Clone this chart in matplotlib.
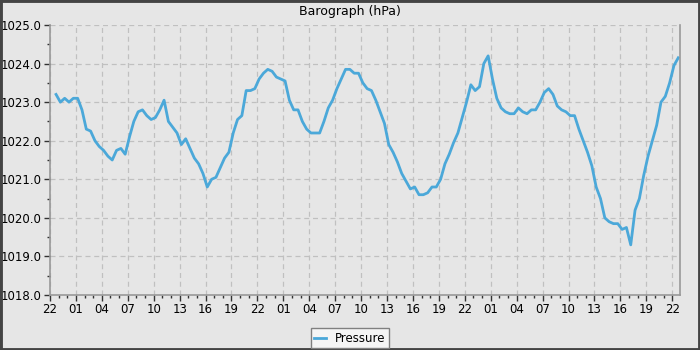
import numpy as np
import matplotlib
matplotlib.use("Agg")
import matplotlib.pyplot as plt
from matplotlib.ticker import MultipleLocator, FuncFormatter
from matplotlib.patches import Rectangle

# hours since 22:00 of the first day, one reading every half hour
start_hour = 22
t0 = 0.7
step = 0.5
pressure = [
    1023.2, 1023.0, 1023.1, 1023.0, 1023.1, 1023.1, 1022.8, 1022.3, 1022.25, 1022.0,
    1021.85, 1021.75, 1021.6, 1021.5, 1021.75, 1021.8, 1021.65, 1022.1, 1022.5, 1022.75,
    1022.8, 1022.65, 1022.55, 1022.6, 1022.8, 1023.05, 1022.5, 1022.35, 1022.2, 1021.9,
    1022.05, 1021.8, 1021.55, 1021.4, 1021.15, 1020.8, 1021.0, 1021.05, 1021.3, 1021.55,
    1021.7, 1022.2, 1022.55, 1022.65, 1023.3, 1023.3, 1023.35, 1023.6, 1023.75, 1023.85,
    1023.8, 1023.65, 1023.6, 1023.55, 1023.05, 1022.8, 1022.8, 1022.5, 1022.3, 1022.2,
    1022.2, 1022.2, 1022.5, 1022.85, 1023.05, 1023.35, 1023.6, 1023.85, 1023.85, 1023.75,
    1023.75, 1023.5, 1023.35, 1023.3, 1023.05, 1022.75, 1022.45, 1021.9, 1021.7, 1021.45,
    1021.15, 1020.95, 1020.75, 1020.8, 1020.6, 1020.6, 1020.65, 1020.8, 1020.8, 1021.0,
    1021.4, 1021.65, 1021.95, 1022.2, 1022.6, 1023.0, 1023.45, 1023.3, 1023.4, 1024.0,
    1024.2, 1023.6, 1023.1, 1022.85, 1022.75, 1022.7, 1022.7, 1022.85, 1022.75, 1022.7,
    1022.8, 1022.8, 1023.0, 1023.25, 1023.35, 1023.2, 1022.9, 1022.8, 1022.75, 1022.65,
    1022.65, 1022.3, 1022.0, 1021.7, 1021.35, 1020.8, 1020.5, 1020.0, 1019.9, 1019.85,
    1019.85, 1019.7, 1019.75, 1019.3, 1020.2, 1020.5, 1021.1, 1021.6, 1022.0, 1022.4,
    1023.0, 1023.15, 1023.5, 1023.95, 1024.15,
]
hours = t0 + step * np.arange(len(pressure))

bg = "#e6e6e6"
fig = plt.figure(figsize=(7, 3.5), dpi=100, facecolor=bg)
ax = fig.add_axes([50/700, 1-295/350, 630/700, 270/350], facecolor=bg)

ax.plot(hours, pressure, color="#4ba8d9", lw=2.0, label="Pressure")

ax.set_xlim(0, 72.9)
ax.set_ylim(1018, 1025)
ax.yaxis.set_major_locator(MultipleLocator(1))
ax.yaxis.set_minor_locator(MultipleLocator(0.5))
ax.yaxis.set_major_formatter(FuncFormatter(lambda v, p: f"{v:.1f}"))
ax.xaxis.set_major_locator(MultipleLocator(3))
ax.xaxis.set_minor_locator(MultipleLocator(1))
ax.xaxis.set_major_formatter(FuncFormatter(lambda v, p: f"{int(round(v + start_hour)) % 24:02d}"))

ax.grid(True, which="major", color="#c0c0c0", ls=(0, (4, 3)), lw=0.9)
ax.tick_params(which="major", length=4, width=1, color="#333333", labelsize=8.5, pad=2)
ax.tick_params(which="minor", length=2, width=1, color="#333333")
for s in ["left", "bottom", "right"]:
    ax.spines[s].set_color("#999999")
    ax.spines[s].set_linewidth(1.2)
ax.spines["top"].set_visible(False)

fig.text(0.5, 1-11/350, "Barograph (hPa)", ha="center", va="center", fontsize=9)

leg = fig.legend(loc="lower center", bbox_to_anchor=(0.5, -0.012), fontsize=8.5,
                 frameon=True, fancybox=False, handlelength=1.0,
                 borderpad=0.3, handletextpad=0.8)
leg.get_frame().set_facecolor("#f5f5f5")
leg.get_frame().set_edgecolor("#808080")
leg.get_frame().set_alpha(1)

fig.patches.append(Rectangle((0, 0), 1, 1, transform=fig.transFigure,
                             fill=False, edgecolor="#444444", lw=3.5))

fig.savefig("out.png", dpi=100, facecolor=bg)
